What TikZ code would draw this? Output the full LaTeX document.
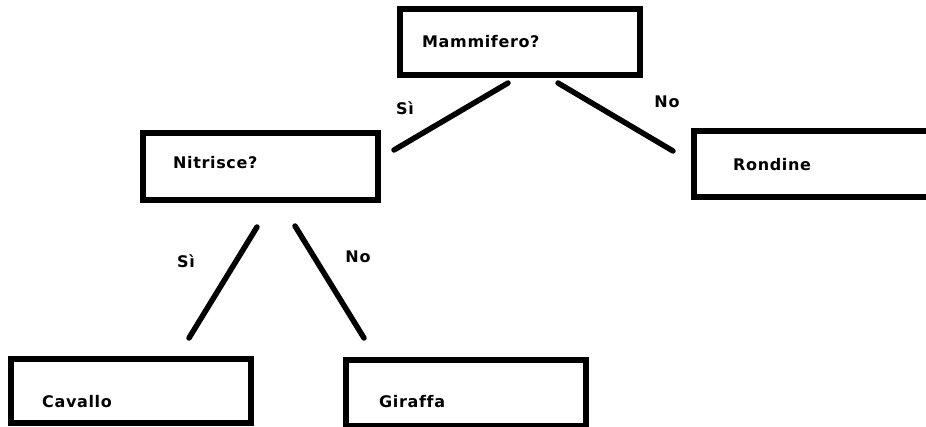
\documentclass[tikz,border=0pt]{standalone}
\usepackage{fontspec}
\setmainfont[LetterSpace=4,Ligatures=NoCommon]{DejaVu Sans}
\begin{document}
\begin{tikzpicture}[x=1pt,y=-1pt,
  box/.style={draw=black,line width=6pt,rectangle,inner sep=0pt,outer sep=0pt,fill=white},
  lbl/.style={inner sep=0pt,anchor=west,font=\fontsize{16}{19}\selectfont\bfseries},
  edgelbl/.style={inner sep=0pt,font=\fontsize{16}{19}\selectfont\bfseries},
  conn/.style={line width=5.5pt,line cap=round}]
\useasboundingbox (0,0) rectangle (926,427);
\clip (0,0) rectangle (926,427);
% boxes
\node[box,minimum width=240pt,minimum height=66pt] (mam) at (520,42) {};
\node[box,minimum width=235pt,minimum height=67pt] (nit) at (260.5,167) {};
\node[box,minimum width=260pt,minimum height=66pt] (ron) at (823.5,164) {};
\node[box,minimum width=240pt,minimum height=64pt] (cav) at (131,391) {};
\node[box,minimum width=240pt,minimum height=66pt] (gir) at (466,393) {};
% texts
\node[lbl] (tmam) at (422,42) {Mammifero?};
\node[lbl] (tnit) at (173,163) {Nitrisce?};
\node[lbl] (tron) at (733,165) {Rondine};
\node[lbl] (tcav) at (42,402) {Cavallo};
\node[lbl] (tgir) at (379,402) {Giraffa};
% connector ends
\coordinate (a1) at (508,83);
\coordinate (a2) at (394,150);
\coordinate (b1) at (558,83);
\coordinate (b2) at (673,151);
\coordinate (c1) at (257,227);
\coordinate (c2) at (189,338);
\coordinate (d1) at (295,226);
\coordinate (d2) at (364,338);
\draw[conn] (a1) -- (a2);
\draw[conn] (b1) -- (b2);
\draw[conn] (c1) -- (c2);
\draw[conn] (d1) -- (d2);
% edge labels
\node[edgelbl] (l1) at (405,108) {Sì};
\node[edgelbl] (l2) at (667,102) {No};
\node[edgelbl] (l3) at (186,261) {Sì};
\node[edgelbl] (l4) at (358,257) {No};
\end{tikzpicture}
\end{document}
